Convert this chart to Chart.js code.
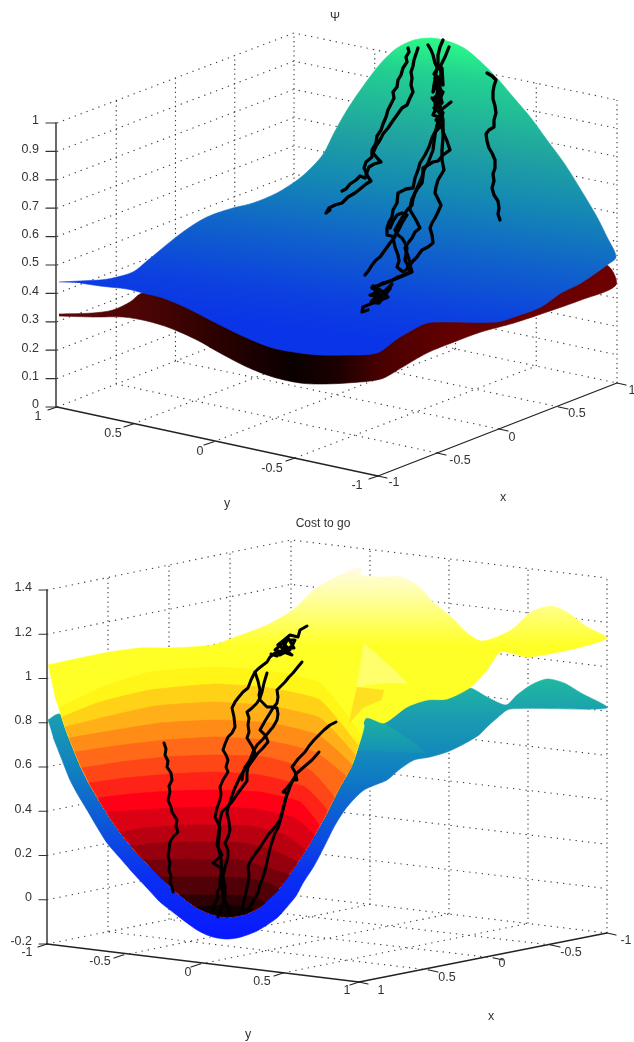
<!DOCTYPE html>
<html>
<head>
<meta charset="utf-8">
<title>Psi and cost to go</title>
<script src="https://cdn.jsdelivr.net/npm/chart.js@4"></script>
<style>
  html, body { margin: 0; padding: 0; background: #fff; }
  canvas { display: block; filter: blur(0.35px); }
</style>
</head>
<body>
<canvas id="psiChart" width="634" height="510"></canvas>
<canvas id="costChart" width="634" height="532"></canvas>
<script>
// tick labels
const psiZTicks = [0, 0.1, 0.2, 0.3, 0.4, 0.5, 0.6, 0.7, 0.8, 0.9, 1];
const psiYTicks = ['1', '0.5', '0', '-0.5', '-1'];
const psiXTicks = ['-1', '-0.5', '0', '0.5', '1'];
const costZTicks = [-0.2, 0, 0.2, 0.4, 0.6, 0.8, 1, 1.2, 1.4];
const costYTicks = ['-1', '-0.5', '0', '0.5', '1'];
const costXTicks = ['1', '0.5', '0', '-0.5', '-1'];

// surface silhouettes
const psiUpperSurface = [[59,282],[80,281],[100,280],[113,278],[133,272],[147,261],[175,238],[193,225],[207,217],[220,212],[233,208],[253,203],[277,193],[300,178],[314,165],[324,153],[334,133],[347,110],[364,85],[381,63],[397,48],[414,40],[431,38],[447,41],[464,48],[481,62],[497,78],[514,98],[531,118],[547,140],[564,163],[581,190],[597,217],[607,237],[616,257],[607,265],[581,283],[561,293],[541,307],[514,317],[497,322],[447,322],[427,323],[407,333],[397,339],[377,353],[347,355],[320,355],[300,353],[273,348],[247,338],[220,325],[187,308],[163,298],[143,293],[127,289],[100,286],[80,283]];
const psiLowerSurface = [[59,314],[93,313],[113,310],[130,302],[143,293],[200,300],[400,320],[560,280],[606,265],[616,285],[581,300],[547,312],[514,323],[481,332],[454,342],[427,353],[401,368],[381,379],[347,383],[320,384],[300,383],[273,377],[247,367],[220,353],[197,340],[170,328],[147,321],[123,317],[93,317],[59,316]];

const costUpperSurface = [[48,665],[80,658],[110,652],[140,648],[170,648],[213,645],[233,638],[267,625],[293,610],[314,590],[334,578],[361,567],[361,575],[381,577],[401,577],[417,585],[434,603],[451,617],[467,633],[481,641],[497,637],[514,628],[531,612],[551,606],[567,612],[587,627],[607,638],[581,647],[554,653],[527,657],[501,652],[487,670],[471,687],[447,699],[427,700],[407,707],[384,723],[366,718]];
const costBowlRight = [[358,747],[353,762],[346,776],[338,790],[331,804],[324,818],[316,832],[308,846],[299,860],[290,873],[280,887],[269,899],[258,908],[245,914]];
const costBowlLeft = [[227,917],[212,914],[198,908],[185,899],[172,888],[158,875],[145,861],[132,847],[120,832],[109,816],[99,800],[89,783],[81,767],[74,750],[68,735],[63,721],[59,708],[55,697]];
const costLowerSurface = [[48,720],[59,714],[225,750],[366,718],[384,723],[407,707],[427,700],[447,699],[469,688],[487,697],[506,705],[517,695],[531,685],[547,679],[564,683],[581,693],[607,708],[510,709],[497,718],[487,727],[479,735],[471,740],[460,746],[447,752],[430,757],[414,760],[400,769],[387,780],[375,785],[364,790],[355,798],[347,807],[340,817],[334,827],[329,837],[324,847],[314,866],[303,883],[296,896],[287,907],[278,917],[267,925],[257,931],[247,935],[237,938],[227,939],[217,938],[207,935],[197,930],[187,923],[174,913],[160,902],[147,888],[133,873],[120,858],[107,843],[97,827],[87,810],[78,795],[70,780],[62,760],[53,737]];
const costLowerFold = [[366,718],[384,723],[414,743],[427,753],[357,750]];
const costUpperFold = [[364,643],[357,687],[381,683],[407,683],[391,667]];
const costFoldShade = [[357,687],[349,723],[364,707],[381,700],[384,690]];

// contour levels of the cost surface, each an arch from the left rim to the right rim
const costLevels = [1.0, 0.93, 0.86, 0.79, 0.72, 0.65, 0.58, 0.51, 0.44, 0.37, 0.30, 0.23, 0.16, 0.09, 0.02, -0.04];
const costContours = [
  [[55,697],[100,672],[145,657],[190,652],[235,656],[280,656],[315,655],[335,668],[364,725]],
  [[59,708],[100,688],[150,672],[215,667],[270,671],[320,683],[361,735]],
  [[62,717],[100,702],[150,690],[215,684],[270,688],[320,700],[358,745]],
  [[65,727],[105,717],[155,706],[215,702],[270,706],[320,718],[355,755]],
  [[69,738],[110,731],[160,723],[215,720],[270,723],[318,735],[352,765]],
  [[75,752],[115,746],[165,740],[215,737],[265,740],[315,752],[345,775]],
  [[82,768],[120,762],[165,757],[215,755],[265,757],[310,770],[334,797]],
  [[89,783],[125,778],[170,774],[215,772],[260,775],[305,787],[327,810]],
  [[98,798],[130,794],[170,791],[215,790],[260,792],[300,802],[319,825]],
  [[107,812],[140,810],[175,808],[215,807],[255,809],[295,818],[314,835]],
  [[120,832],[145,828],[180,825],[215,825],[250,826],[285,835],[305,850]],
  [[131,846],[155,843],[185,842],[215,842],[245,843],[275,851],[297,862]],
  [[144,860],[165,860],[190,859],[215,860],[240,860],[265,867],[289,875]],
  [[160,877],[180,877],[215,877],[245,878],[265,882],[279,889]],
  [[180,895],[200,895],[225,895],[250,896],[265,903]],
  [[197,907],[225,905],[254,909]]
];

// sampled paths
const psiPaths = [
  [[408,48],[409,52],[406,57],[407,62],[403,68],[401,75],[398,80],[397,87],[393,92],[394,98],[391,104],[388,110],[386,117],[383,124],[381,130],[377,136],[376,143],[372,150],[372,157],[366,162],[364,168],[367,174],[365,178],[360,176],[356,180],[350,184],[346,189],[342,191]],
  [[418,48],[416,54],[414,60],[413,66],[411,72],[412,78],[411,85],[413,92],[410,98],[407,105],[402,108],[397,115],[392,122],[388,128],[383,134],[380,140],[376,146],[373,153],[378,159],[381,162],[374,164],[369,167],[366,174],[371,181],[366,184],[360,189],[355,193],[348,197],[342,203],[335,205],[329,208],[326,213],[330,210]],
  [[487,73],[492,76],[496,80],[494,86],[493,92],[493,99],[495,106],[496,113],[494,120],[494,127],[489,130],[486,134],[487,141],[489,148],[492,153],[495,160],[495,168],[493,174],[494,181],[492,188],[494,195],[498,201],[499,208],[498,214],[500,220]],
  [[428,45],[431,50],[433,55],[435,63],[437,67],[433,92],[440,78],[435,105],[443,92],[433,115],[442,118],[435,132],[432,138],[429,147],[425,155],[420,163],[418,170],[415,178],[413,188],[406,189],[398,193],[397,203],[393,210],[392,217],[389,222],[387,228],[387,235],[395,237],[390,243],[385,250],[380,257],[376,260],[372,265],[369,270],[365,275]],
  [[443,40],[440,47],[438,55],[438,65],[442,68],[443,85],[435,78],[442,102],[432,98],[443,113],[437,125],[435,135],[434,142],[433,150],[428,163],[424,170],[422,177],[418,186],[413,197],[411,203],[410,210],[416,220],[420,228],[415,232],[412,238],[408,243],[405,248],[408,256],[410,263],[407,269],[403,272],[397,267],[399,261],[398,255],[395,247],[393,238],[398,231],[402,223],[407,215],[402,213],[397,215],[393,221],[390,228]],
  [[449,47],[447,52],[445,57],[440,67],[441,74],[438,82],[441,90],[437,100],[441,108],[443,120],[443,132],[447,141],[450,150],[443,155],[438,161],[433,162],[428,165],[423,168],[423,176],[422,183],[418,188],[415,193],[413,199],[412,205],[408,209],[405,213],[400,221],[395,230],[398,235],[402,238],[405,243],[407,248],[406,254],[405,260],[408,266],[410,272],[404,275],[398,277],[393,280],[388,282],[380,285],[372,287],[378,293],[370,295],[379,296],[388,297],[381,300],[373,303],[368,305],[363,307],[362,312],[368,310]],
  [[451,102],[446,106],[441,110],[439,122],[443,130],[443,137],[442,150],[442,160],[444,170],[441,175],[438,180],[436,187],[435,193],[438,199],[441,205],[438,212],[435,218],[432,223],[430,228],[432,235],[433,243],[428,247],[422,250],[419,254],[417,257],[413,261],[410,265],[412,272],[405,275],[398,278],[390,281],[383,283],[378,286],[372,288],[385,292],[376,299],[390,289]],
  [[438,68],[434,74],[441,80],[434,86],[442,92],[435,97],[442,103],[434,108],[441,114],[436,120],[441,126],[436,131]],
  [[373,286],[380,290],[373,294],[382,294],[392,284],[384,298],[375,298],[371,302],[379,303],[388,291]]
];
const costPaths = [
  [[164,743],[166,749],[165,755],[168,761],[167,767],[171,773],[172,780],[169,786],[170,792],[168,800],[171,807],[172,812],[177,820],[176,826],[178,832],[173,837],[170,842],[169,850],[168,856],[170,863],[169,870],[171,876],[170,882],[172,887],[173,892]],
  [[307,626],[300,630],[298,637],[290,635],[284,640],[278,645],[285,650],[292,655],[284,652],[275,653],[270,657],[267,662],[263,665],[258,669],[255,672],[251,680],[248,688],[243,692],[238,698],[235,702],[232,708],[234,717],[235,727],[232,733],[228,737],[225,744],[223,750],[226,755],[228,760],[226,767],[228,772],[223,780],[220,787],[221,794],[220,800],[217,808],[215,817],[218,823],[220,828],[219,838],[218,847],[221,858],[222,870],[220,879],[220,887],[217,893],[218,898],[214,905],[213,910]],
  [[302,662],[297,668],[293,673],[289,677],[285,682],[281,686],[277,690],[278,697],[277,703],[273,708],[270,713],[265,721],[260,730],[263,733],[265,735],[267,739],[268,742],[263,748],[258,753],[253,760],[248,767],[243,772],[240,777],[234,790],[230,802],[228,808],[227,813],[229,822],[230,830],[228,837],[225,843],[228,850],[228,857],[225,867],[223,877],[225,887],[225,897],[222,907],[218,917]],
  [[255,672],[258,681],[260,690],[259,695],[260,700],[264,704],[267,707],[272,707],[277,708],[278,714],[277,720],[273,727],[268,733],[263,739],[257,745],[253,752],[250,760],[248,767],[247,773],[247,781],[238,793],[232,802],[222,812],[220,820],[219,829],[218,837],[217,845],[222,855],[213,863],[221,868],[222,880],[223,897],[227,905],[230,913]],
  [[267,673],[264,683],[262,692],[260,698],[257,703],[252,708],[247,712],[249,718],[248,725],[249,732],[247,738],[252,746],[255,753],[250,760],[245,767],[243,773],[242,780]],
  [[278,645],[285,640],[295,640],[292,646],[282,652],[275,650],[283,643],[290,650],[280,655],[288,638],[294,648],[284,648],[277,656],[271,654]],
  [[336,722],[330,725],[324,730],[319,735],[314,740],[309,746],[305,752],[298,759],[292,767],[295,772],[297,780],[293,780],[287,788],[283,792],[287,793],[284,805],[280,820],[275,827],[268,835],[261,846],[253,857],[250,862],[248,867],[249,875],[248,883],[245,897],[242,910]],
  [[319,752],[312,760],[305,766],[297,773],[293,780],[290,787],[286,798],[283,810],[280,822],[278,828],[275,833],[271,845],[268,857],[266,867],[263,877],[260,885],[258,893],[253,902],[248,910]]
];

// axis geometry in page pixels, kept apart from the values above
const psiBox = {
  yMin: 0, yMax: 510, title: '\u03A8', titleAt: [335, 18],
  A: [57, 407], B: [378, 476], C: [617, 383], D: [294, 315],
  heightA: 284, heightD: 282, heightC: 283, zMin: 0, zMax: 1,
  axisX: 56, zTickLen: 10, zLabelX: 39, zLabelDy: -2,
  abTicks: [[57,407],[133,424],[213,442],[295,458],[378,476]],
  bcTicks: [[378,476],[437,453],[499,429],[559,407],[617,383]],
  abLabels: [[38,417],[113,434],[200,452],[272,469],[357,486]],
  bcLabels: [[394,483],[460,461],[512,438],[577,414],[632,391]],
  yTitleAt: [227, 504], xTitleAt: [503, 498]
};
const costBox = {
  yMin: 510, yMax: 1042, title: 'Cost to go', titleAt: [323, 524],
  A: [47, 944], B: [359, 982], C: [607, 933], D: [291, 895],
  heightA: 354, heightD: 355, heightC: 355, zMin: -0.2, zMax: 1.4,
  axisX: 47, zTickLen: 8, zLabelX: 32, zLabelDy: -2,
  abTicks: [[47,944],[123,955],[200,964],[283,973],[359,982]],
  bcTicks: [[359,982],[429,970],[494,958],[551,945],[607,933]],
  abLabels: [[27,953],[100,962],[188,973],[262,982],[347,991]],
  bcLabels: [[381,991],[447,978],[502,964],[571,953],[626,941]],
  yTitleAt: [248, 1035], xTitleAt: [491, 1017]
};

const toPoints = pts => pts.map(p => ({ x: p[0], y: p[1] }));
const lerp = (p, q, t) => [p[0] + (q[0] - p[0]) * t, p[1] + (q[1] - p[1]) * t];

function lineSet(pts, color, width) {
  return {
    data: toPoints(pts), showLine: true, fill: false, pointRadius: 0, tension: 0,
    borderColor: color, borderWidth: width,
    borderJoinStyle: 'round', borderCapStyle: 'round'
  };
}

function dottedSet(pts, dash) {
  return {
    data: toPoints(pts), showLine: true, fill: false, pointRadius: 0, tension: 0,
    borderColor: '#3c3c3c', borderWidth: 1.1, borderDash: dash, borderCapStyle: 'butt'
  };
}

function patchSet(pts, color, tension) {
  return {
    data: toPoints(pts), showLine: true, fill: 'shape', pointRadius: 0, tension: tension || 0,
    backgroundColor: color, borderColor: color, borderWidth: 0.6
  };
}

function gradient(ctx, x0, y0, x1, y1, stops) {
  const g = ctx.createLinearGradient(x0, y0, x1, y1);
  stops.forEach(s => g.addColorStop(s[0], s[1]));
  return g;
}

// dotted box, from the box geometry and tick lists
function boxSets(box, zTicks) {
  const sets = [];
  const dots = [1.3, 5];
  const vDots = [1.3, 3.4];
  const zFrac = z => (z - box.zMin) / (box.zMax - box.zMin);
  const up = (p, h, f) => [p[0], p[1] - h * f];

  zTicks.forEach(z => {
    const f = zFrac(z);
    sets.push(dottedSet([up(box.A, box.heightA, f), up(box.D, box.heightD, f), up(box.C, box.heightC, f)], dots));
  });
  for (let i = 1; i <= 4; i++) {
    const onAD = lerp(box.A, box.D, i / 4);
    const onDC = lerp(box.D, box.C, i / 4);
    const hAD = box.heightA + (box.heightD - box.heightA) * i / 4;
    const hDC = box.heightD + (box.heightC - box.heightD) * i / 4;
    sets.push(dottedSet([onAD, up(onAD, hAD, 1)], vDots));
    sets.push(dottedSet([onDC, up(onDC, hDC, 1)], vDots));
    if (i < 4) {
      sets.push(dottedSet([box.abTicks[i], lerp(box.D, box.C, i / 4)], dots));
      sets.push(dottedSet([box.bcTicks[i], lerp(box.A, box.D, i / 4)], dots));
    }
  }
  return sets;
}

function axisSets(box, zTicks) {
  const sets = [];
  const f = z => (z - box.zMin) / (box.zMax - box.zMin);
  const topA = box.A[1] - box.heightA;
  sets.push(lineSet([[box.axisX, box.A[1]], [box.axisX, topA]], '#444', 1.6));
  zTicks.forEach(z => {
    const y = box.A[1] - box.heightA * f(z);
    sets.push(lineSet([[box.axisX - box.zTickLen, y], [box.axisX, y]], '#333', 1.2));
  });
  sets.push(lineSet([box.A, box.B], '#222', 1.3));
  sets.push(lineSet([box.B, box.C], '#222', 1.3));
  box.abTicks.forEach(p => sets.push(lineSet([p, [p[0] - 9, p[1] + 3]], '#222', 1.2)));
  box.bcTicks.forEach(p => sets.push(lineSet([p, [p[0] + 9, p[1] + 2]], '#222', 1.2)));
  return sets;
}

// text for the axes, placed through the chart's own scales
function axisText(box, zTicks, yTicks, xTicks) {
  return {
    id: 'axisText',
    afterDraw(chart) {
      const { ctx, scales } = chart;
      const put = (text, p, align) => {
        ctx.textAlign = align || 'center';
        ctx.fillText(text, scales.x.getPixelForValue(p[0]), scales.y.getPixelForValue(p[1]));
      };
      ctx.save();
      ctx.fillStyle = '#333';
      ctx.textBaseline = 'middle';
      ctx.font = '12.5px "Liberation Sans", Arial, sans-serif';
      const f = z => (z - box.zMin) / (box.zMax - box.zMin);
      zTicks.forEach(z => put(String(z), [box.zLabelX, box.A[1] - box.heightA * f(z) + box.zLabelDy], 'right'));
      yTicks.forEach((t, i) => put(t, box.abLabels[i]));
      xTicks.forEach((t, i) => put(t, box.bcLabels[i]));
      put('y', box.yTitleAt);
      put('x', box.xTitleAt);
      ctx.font = '12px "Liberation Sans", Arial, sans-serif';
      put(box.title, box.titleAt);
      ctx.restore();
    }
  };
}

function drawPanel(canvasId, box, paintOrder, textPlugin) {
  new Chart(document.getElementById(canvasId), {
    type: 'scatter',
    data: { datasets: paintOrder.slice().reverse() },
    options: {
      responsive: false,
      animation: false,
      devicePixelRatio: 1,
      layout: { padding: 0 },
      plugins: { legend: { display: false }, tooltip: { enabled: false }, title: { display: false } },
      scales: {
        x: { type: 'linear', display: false, min: 0, max: 634 },
        y: { type: 'linear', display: false, min: box.yMin, max: box.yMax, reverse: true }
      }
    },
    plugins: [textPlugin]
  });
}

// Matlab hot colormap with the surface's colour limits
function hotColor(z) {
  const t = (z + 0.07) / 1.36;
  const r = Math.min(1, t / 0.375);
  const g = Math.max(0, Math.min(1, (t - 0.375) / 0.375));
  const b = Math.max(0.09 * r, (t - 0.75) / 0.25);
  return `rgb(${Math.round(r * 255)},${Math.round(g * 255)},${Math.round(b * 255)})`;
}

function contourShape(arch) {
  const first = arch[0];
  const last = arch[arch.length - 1];
  const right = costBowlRight.filter(p => p[1] > last[1]);
  const left = costBowlLeft.filter(p => p[1] > first[1]);
  return arch.concat(right, left);
}

function renderPsi() {
  const ctx = document.getElementById('psiChart').getContext('2d');
  const upperFill = gradient(ctx, 440, 38, 400, 345, [
    [0, '#2cfb88'], [0.12, '#22d090'], [0.33, '#20a4a0'], [0.5, '#1488b4'],
    [0.7, '#1060cc'], [0.88, '#0c40e0'], [1, '#0a34e8']
  ]);
  const lowerFill = gradient(ctx, 59, 0, 616, 0, [
    [0, '#5e0808'], [0.16, '#4a0404'], [0.3, '#280000'], [0.42, '#0a0000'],
    [0.5, '#1c0000'], [0.58, '#4a0000'], [0.7, '#620000'], [1, '#6e0000']
  ]);
  const order = boxSets(psiBox, psiZTicks);
  order.push(patchSet(psiLowerSurface, lowerFill, 0.3));
  order.push(patchSet(psiUpperSurface, upperFill, 0.3));
  psiPaths.forEach(p => order.push(lineSet(p, '#000', 3.3)));
  order.push(...axisSets(psiBox, psiZTicks));
  drawPanel('psiChart', psiBox, order, axisText(psiBox, psiZTicks, psiYTicks, psiXTicks));
}

function renderCost() {
  const ctx = document.getElementById('costChart').getContext('2d');
  const top = costBox.yMin;
  const lowerFill = gradient(ctx, 0, 679 - top, 0, 939 - top, [
    [0, '#20b8a0'], [0.15, '#1a9cb0'], [0.35, '#1080c0'], [0.55, '#0c58d8'],
    [0.75, '#0a30f0'], [1, '#0818ff']
  ]);
  const foldFill = gradient(ctx, 0, 718 - top, 0, 755 - top, [[0, '#1cb0a0'], [1, '#1490b8']]);
  const upperFill = gradient(ctx, 0, 568 - top, 0, 645 - top, [
    [0, '#fffbe4'], [0.4, '#ffff9c'], [1, '#ffff28']
  ]);
  const order = boxSets(costBox, costZTicks);
  order.push(patchSet(costLowerSurface, lowerFill, 0.25));
  order.push(patchSet(costLowerFold, foldFill));
  order.push(patchSet(costUpperSurface.concat(costBowlRight, costBowlLeft), upperFill, 0.25));
  costContours.forEach((arch, i) => order.push(patchSet(contourShape(arch), hotColor(costLevels[i]), 0.15)));
  order.push(patchSet(costUpperFold, '#ffff6c'));
  order.push(patchSet(costFoldShade, '#ffe020'));
  costPaths.forEach(p => order.push(lineSet(p, '#000', 3)));
  order.push(...axisSets(costBox, costZTicks));
  drawPanel('costChart', costBox, order, axisText(costBox, costZTicks, costYTicks, costXTicks));
}

renderPsi();
renderCost();
</script>
</body>
</html>
